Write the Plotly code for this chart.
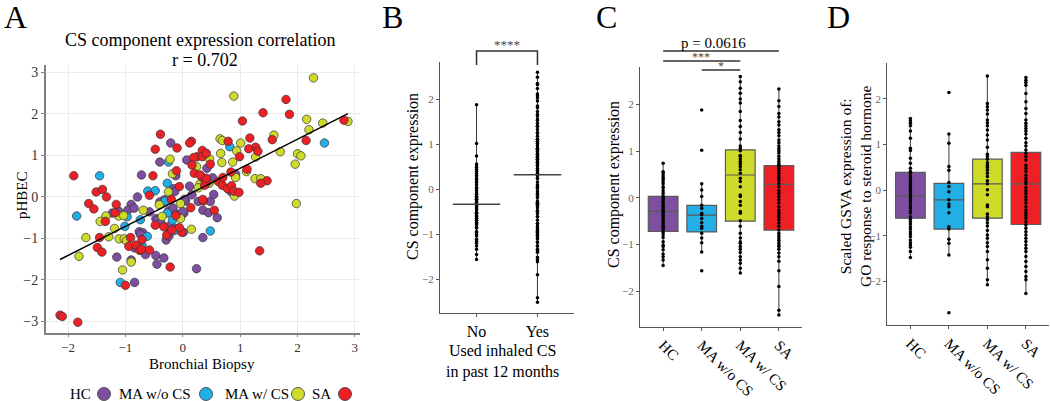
import numpy as np
import plotly.graph_objects as go

# ---------------- Panel A data (Bronchial Biopsy vs pHBEC) ----------------
hc_xy = [(-0.21,1.30),(-0.40,0.84),(0.07,0.89),(0.42,0.69),(0.92,0.55),(-0.12,0.51),(-0.72,0.53),(0.12,0.26),
         (-0.16,0.20),(0.52,0.46),(0.84,0.13),(-0.79,0.00),(-0.90,-0.18),(-0.96,-0.32),(-0.85,-0.27),(-1.23,-0.39),
         (-1.12,-0.34),(-1.15,-1.45),(-0.84,-1.23),(-0.90,-1.52),(-0.84,-2.06),(-0.76,-0.84),(-0.70,-0.86),(-0.74,-0.90),
         (-0.65,-1.39),(-0.47,-1.41),(-0.45,-1.62),(-0.33,-1.47),(0.24,-1.73),(-0.58,-0.36),(-0.47,-0.52),(-0.44,-0.56),
         (-0.38,-0.63),(-0.29,-1.04),(-0.23,-0.80),(-0.24,-0.94),(0.01,-0.85),(-0.02,-0.42),(0.02,-0.39),(-0.25,-0.34),
         (0.05,-0.10),(-0.40,-0.12),(-0.32,-0.07),(-0.17,-0.27),(-0.11,-0.42),(0.00,-0.35),(0.03,-0.06),(0.16,0.05),
         (0.35,-0.32),(0.45,-0.38),(0.48,-0.11),(0.60,-0.50),(0.35,-0.98),(0.54,0.06),(-0.13,-0.76),(0.27,-0.11),
         (-0.24,-0.71),(-0.14,0.13)]
mawo_xy = [(-1.45,0.51),(-0.27,0.33),(-0.61,0.14),(-0.48,0.15),(-0.25,0.84),(0.82,1.21),(2.47,1.30),(-1.85,-0.46),
           (-0.97,-0.48),(-1.01,-0.71),(-1.09,-2.06),(-0.62,-0.95),(-0.74,-0.55),(-0.18,-0.56),(-0.15,-0.81),
           (-0.27,-0.39),(-0.31,-0.10),(0.48,-0.82),(-0.71,-1.17)]
maw_xy = [(2.28,2.87),(0.89,2.43),(2.16,1.87),(2.44,1.78),(2.88,1.82),(2.20,1.62),(1.59,1.49),(0.65,1.40),(0.69,1.36),
          (1.01,1.30),(0.94,1.11),(0.66,1.05),(1.70,1.09),(2.00,1.04),(2.06,0.99),(1.96,0.79),(0.47,0.91),(0.68,0.83),
          (0.87,0.84),(1.11,0.61),(0.92,0.47),(1.26,0.44),(1.36,0.44),(-0.22,0.91),(0.24,0.73),(-0.18,0.56),(0.46,0.33),
          (0.30,0.31),(-0.25,0.12),(0.27,0.22),(0.90,0.02),(1.98,-0.16),(-0.41,-0.19),(-0.69,-0.32),(-1.12,-0.46),
          (-1.34,-0.46),(-1.44,-0.59),(-1.03,-0.45),(-1.19,-0.76),(-1.29,-0.96),(-1.69,-0.98),(-1.81,-1.43),(-1.11,-1.01),
          (-1.02,-1.01),(-0.98,-1.06),(-0.90,-1.57),(-1.05,-1.76),(-0.04,-0.52),(-0.04,-0.16),(0.15,-0.78),(-0.36,-0.47),
          (1.27,0.96)]
sa_xy = [(1.80,2.35),(1.40,2.03),(1.86,1.99),(1.04,1.83),(2.81,1.85),(-0.39,1.51),(1.56,1.38),(1.17,1.42),(0.79,1.34),
         (0.15,1.34),(0.12,1.30),(2.15,1.36),(1.27,1.20),(1.15,1.16),(-0.48,1.15),(-0.10,1.18),(0.34,1.12),(1.31,1.10),
         (0.25,0.97),(0.34,0.97),(0.41,1.05),(0.19,0.95),(0.99,0.97),(0.16,0.77),(0.48,0.79),(1.12,0.67),(0.84,0.60),
         (1.47,0.39),(1.36,0.33),(-0.11,0.63),(-0.52,0.51),(-1.90,0.51),(0.20,0.57),(0.34,0.47),(0.62,0.37),(0.70,0.47),
         (0.69,0.28),(0.78,0.20),(0.85,0.27),(0.89,0.14),(0.98,0.11),(-0.06,0.25),(0.43,0.36),(0.38,0.28),(-1.51,0.12),
         (-1.40,0.18),(-1.33,0.00),(-0.58,0.04),(0.41,0.45),(0.30,0.53),
         (-1.64,-0.16),(-1.55,-0.29),(-1.16,-0.18),(-1.18,-0.38),(-1.35,-0.59),(-1.45,-0.98),(-1.49,-1.22),(-1.41,-1.33),
         (-0.91,-0.98),(-0.94,-1.19),(-0.82,-1.16),(-0.75,-1.29),(-0.72,-1.26),(-1.00,-2.13),(-2.14,-2.85),(-2.10,-2.88),
         (-1.83,-3.02),(-0.71,-1.03),(-0.22,-1.69),(1.34,-1.30),(-0.48,-0.68),(-0.33,-0.72),(-0.28,-0.92),(-0.02,-0.85),
         (-0.06,-0.74),(-0.12,-0.45),(0.14,-0.26),(-0.20,-0.06),(0.36,-0.10),(0.55,-0.32),(0.35,-0.06),(-0.19,-0.80),
         (-0.58,-1.28)]
fit_slope = 0.70
fit_intercept = -0.01
r_value = 0.702

groups = ["HC", "MA w/o CS", "MA w/ CS", "SA"]
colors = ["#7E4FA1", "#22AFE6", "#CEDB2A", "#EE2026"]

# ---------------- Panel C data (CS component expression) ----------------
c_hc = [0.74,0.56,0.54,0.49,0.44,0.40,0.35,0.30,0.24,0.21,0.15,0.10,0.04,0.01,-0.03,-0.08,-0.11,-0.16,-0.19,-0.22,
        -0.26,-0.29,-0.33,-0.37,-0.41,-0.46,-0.51,-0.54,-0.58,-0.61,-0.65,-0.69,-0.74,-0.79,-0.85,-0.94,-1.01,-1.04,
        -1.11,-1.20,-1.26,-1.33,-1.45]
c_mawo = [1.88,1.02,0.30,0.17,0.03,-0.16,-0.22,-0.33,-0.36,-0.44,-0.53,-0.61,-0.65,-0.76,-0.86,-0.96,-1.16,-1.56]
c_maw = [2.60,2.49,2.35,2.24,2.12,2.03,1.85,1.66,1.53,1.40,1.26,1.11,1.06,1.01,0.91,0.89,0.84,0.78,0.73,0.67,0.60,
         0.53,0.42,0.35,0.24,0.06,0.03,-0.08,-0.16,-0.29,-0.33,-0.49,-0.61,-0.76,-0.86,-0.94,-0.97,-1.04,-1.10,-1.17,
         -1.26,-1.33,-1.40,-1.51,-1.61]
c_sa = [2.33,2.08,1.96,1.81,1.73,1.63,1.56,1.46,1.40,1.33,1.24,1.18,1.11,1.06,1.01,0.96,0.89,0.83,0.78,0.73,0.70,0.67,
        0.63,0.58,0.53,0.47,0.42,0.37,0.30,0.24,0.16,0.10,0.03,-0.04,-0.11,-0.19,-0.26,-0.31,-0.36,-0.41,-0.47,-0.54,
        -0.61,-0.69,-0.76,-0.81,-0.86,-0.91,-0.96,-1.01,-1.04,-1.10,-1.18,-1.26,-1.36,-1.56,-1.90,-2.41,-2.51]
c_q1 = [-0.72, -0.73, -0.50, -0.69]
c_med = [-0.29, -0.37, 0.49, 0.29]
c_q3 = [0.03, -0.16, 1.03, 0.69]
c_lo = [-1.45, -1.16, -1.61, -2.51]
c_hi = [0.74, 0.30, 2.60, 2.33]

# ---------------- Panel D data (GSVA steroid hormone response) ----------------
d_hc = [1.57,1.52,1.47,1.41,1.30,1.14,0.92,0.87,0.70,0.59,0.48,0.41,0.37,0.31,0.26,0.21,0.17,0.12,0.08,0.02,-0.03,
        -0.07,-0.12,-0.18,-0.23,-0.28,-0.34,-0.39,-0.45,-0.50,-0.58,-0.64,-0.69,-0.74,-0.80,-0.85,-0.91,-0.96,-1.01,
        -1.09,-1.15,-1.20,-1.25,-1.34,-1.47]
d_mawo = [2.14,1.23,1.03,0.52,0.44,0.17,0.08,-0.03,-0.21,-0.30,-0.36,-0.49,-0.80,-0.85,-1.07,-1.16,-1.42,-2.68]
d_maw = [2.50,1.90,1.83,1.76,1.67,1.54,1.48,1.41,1.32,1.21,1.10,0.94,0.79,0.74,0.68,0.60,0.55,0.50,0.44,0.37,0.30,
         0.21,0.14,0.01,-0.10,-0.32,-0.36,-0.52,-0.58,-0.64,-0.71,-0.78,-0.88,-0.98,-1.05,-1.15,-1.23,-1.34,-1.52,
         -1.71,-1.96,-2.07]
d_sa = [2.47,2.41,2.36,2.30,2.12,1.94,1.79,1.68,1.54,1.47,1.41,1.36,1.30,1.23,1.14,1.04,0.97,0.88,0.81,0.74,0.66,0.55,
        0.48,0.41,0.33,0.26,0.19,0.14,0.06,-0.01,-0.07,-0.14,-0.21,-0.28,-0.36,-0.43,-0.49,-0.55,-0.61,-0.69,-0.76,
        -0.83,-0.91,-0.98,-1.05,-1.12,-1.20,-1.27,-1.34,-1.45,-1.56,-1.67,-1.78,-1.89,-1.96,-2.26]
d_q1 = [-0.61, -0.85, -0.61, -0.75]
d_med = [-0.13, -0.21, 0.14, 0.14]
d_q3 = [0.39, 0.15, 0.68, 0.83]
d_lo = [-1.47, -1.42, -2.07, -2.26]
d_hi = [1.57, 1.23, 2.50, 2.47]

# ---------------- Panel B data: derived from groups ----------------
b_cats = ["No", "Yes"]
b_values = [c_hc + c_mawo, c_maw + c_sa]

W, H = 1050, 401
FONT = "Liberation Serif"
def PX(px): return px / W
def PY(py): return 1 - py / H

fig = go.Figure()

# Panel A scatter
for name, pts, col in zip(groups, [hc_xy, mawo_xy, maw_xy, sa_xy], colors):
    fig.add_trace(go.Scatter(x=[p[0] for p in pts], y=[p[1] for p in pts], mode="markers",
                             marker=dict(size=8.5, color=col, line=dict(color="#333333", width=0.7)),
                             xaxis="x", yaxis="y", name=name))
all_x = [p[0] for g in [hc_xy, mawo_xy, maw_xy, sa_xy] for p in g]
fx = np.array([min(all_x), max(all_x)])
fig.add_trace(go.Scatter(x=fx, y=fit_slope * fx + fit_intercept, mode="lines",
                         line=dict(color="black", width=1.5), xaxis="x", yaxis="y"))

# Panel B
for i, vals in enumerate(b_values):
    fig.add_trace(go.Scatter(x=[i, i], y=[min(vals), max(vals)], mode="lines",
                             line=dict(color="black", width=0.8), xaxis="x2", yaxis="y2"))
    fig.add_trace(go.Scatter(x=[i] * len(vals), y=vals, mode="markers",
                             marker=dict(size=3.5, color="black"), xaxis="x2", yaxis="y2"))
    m = float(np.median(vals))
    fig.add_trace(go.Scatter(x=[i - 0.39, i + 0.39], y=[m, m], mode="lines",
                             line=dict(color="#444444", width=1.5), xaxis="x2", yaxis="y2"))

# Panels C and D
def add_boxes(ax, ay, vals_list, q1, med, q3, lo, hi):
    for i, (vals, col) in enumerate(zip(vals_list, colors)):
        fig.add_trace(go.Box(x=[i], q1=[q1[i]], median=[med[i]], q3=[q3[i]],
                             lowerfence=[lo[i]], upperfence=[hi[i]], width=0.77,
                             fillcolor=col, line=dict(color="#5a5a5a", width=1.2),
                             whiskerwidth=0, boxpoints=False, xaxis=ax, yaxis=ay))
        fig.add_trace(go.Scatter(x=[i] * len(vals), y=vals, mode="markers",
                                 marker=dict(size=3.5, color="black"), xaxis=ax, yaxis=ay))

add_boxes("x3", "y3", [c_hc, c_mawo, c_maw, c_sa], c_q1, c_med, c_q3, c_lo, c_hi)
add_boxes("x4", "y4", [d_hc, d_mawo, d_maw, d_sa], d_q1, d_med, d_q3, d_lo, d_hi)

small_y = dict(showline=True, linecolor="#555555", linewidth=1, ticks="outside", ticklen=3,
               tickcolor="#555555", tickfont=dict(family=FONT, size=11, color="#666666"),
               showgrid=False, zeroline=False, tickvals=[-2, -1, 0, 1, 2])
cat_x = dict(showline=True, linecolor="#555555", linewidth=1, ticks="outside", ticklen=3,
             tickcolor="#555555", showgrid=False, zeroline=False)

fig.update_layout(
    width=W, height=H, autosize=False, margin=dict(l=0, r=0, t=0, b=0),
    plot_bgcolor="white", paper_bgcolor="white", showlegend=False,
    font=dict(family=FONT, color="black"), boxmode="overlay",
    xaxis=dict(domain=[PX(45.7), PX(360)], range=[-2.39, 3.09], anchor="y",
               tickvals=[-2, -1, 0, 1, 2, 3], showgrid=True, gridcolor="#ececec", gridwidth=1,
               showline=True, linecolor="#808080", linewidth=1.5, ticks="outside", ticklen=2,
               tickcolor="#808080", tickfont=dict(family=FONT, size=13, color="#333333"), zeroline=False),
    yaxis=dict(domain=[PY(333), PY(65)], range=[-3.28, 3.18], anchor="x",
               tickvals=[-3, -2, -1, 0, 1, 2, 3], showgrid=True, gridcolor="#ececec", gridwidth=1,
               showline=True, linecolor="#808080", linewidth=1.5, ticks="outside", ticklen=3,
               tickcolor="#808080", tickfont=dict(family=FONT, size=14, color="#333333"), zeroline=False),
    xaxis2=dict(domain=[PX(440), PX(574)], range=[-0.6, 1.6], anchor="y2", tickvals=[0, 1],
                ticktext=b_cats, tickfont=dict(family=FONT, size=16, color="black"), **cat_x),
    yaxis2=dict(domain=[PY(313.3), PY(61.7)], range=[-2.756, 2.836], anchor="x2", **small_y),
    xaxis3=dict(domain=[PX(640), PX(802)], range=[-0.6, 3.6], anchor="y3", tickvals=[0, 1, 2, 3],
                ticktext=groups, tickangle=45, tickfont=dict(family=FONT, size=15, color="black"), **cat_x),
    yaxis3=dict(domain=[PY(326.7), PY(66.7)], range=[-2.76, 2.81], anchor="x3", **small_y),
    xaxis4=dict(domain=[PX(887.3), PX(1049)], range=[-0.6, 3.6], anchor="y4", tickvals=[0, 1, 2, 3],
                ticktext=groups, tickangle=45, tickfont=dict(family=FONT, size=15, color="black"), **cat_x),
    yaxis4=dict(domain=[PY(325), PY(63.3)], range=[-2.95, 2.78], anchor="x4", **small_y),
)

ann = []
def text(t, px, py, size, xanchor="center", angle=0, color="black"):
    ann.append(dict(text=t, x=PX(px), y=PY(py), xref="paper", yref="paper", showarrow=False,
                    xanchor=xanchor, yanchor="middle", textangle=angle,
                    font=dict(family=FONT, size=size, color=color)))

text("A", 15, 17, 32)
text("B", 392, 17, 32)
text("C", 606, 17, 32)
text("D", 838, 17, 32)
text("CS component expression correlation", 200, 40, 18)
text(f"r = {r_value:.3f}", 205, 60, 18)
text("Bronchial Biopsy", 202, 364, 15)
text("pHBEC", 22, 195, 15, angle=-90)
text("CS component expression", 413, 177, 16, angle=-90)
text("Used inhaled CS<br>in past 12 months", 502, 361, 16)
text("****", 507, 44, 13, color="#444444")
text("CS component expression", 614, 185, 16, angle=-90)
text("Scaled GSVA expression of:<br>GO response to steroid hormone", 855, 186, 15.5, angle=-90)
text("p = 0.0616", 713, 43, 15)
text("***", 701, 57, 12, color="#444444")
text("*", 721, 66, 12, color="#444444")

# legend of panel A
leg = [("HC", 93, 104), ("MA w/o CS", 193, 206), ("MA w/ CS", 291, 298), ("SA", 333, 345)]
shapes = []
for (lab, tx, cx), col in zip(leg, colors):
    text(lab, tx, 394, 15, xanchor="right")
    shapes.append(dict(type="circle", xref="paper", yref="paper", xsizemode="pixel", ysizemode="pixel",
                       xanchor=PX(cx), yanchor=PY(394), x0=-6.5, x1=6.5, y0=-6.5, y1=6.5,
                       fillcolor=col, line=dict(color="#333333", width=0.8)))

# significance brackets
shapes.append(dict(type="path", xref="x2", yref="paper",
                   path=f"M 0 {PY(65)} L 0 {PY(51)} L 1 {PY(51)} L 1 {PY(65)}",
                   line=dict(color="#333333", width=1.5)))
for (a, b, py) in [(0, 3, 51), (0, 2, 61), (1, 2, 70)]:
    shapes.append(dict(type="line", xref="x3", yref="paper", x0=a, x1=b, y0=PY(py), y1=PY(py),
                       line=dict(color="#333333", width=1.5)))

fig.update_layout(annotations=ann, shapes=shapes)
fig.write_html("out.html", config={"displayModeBar": False},
               post_script="document.body.style.margin='0';document.body.style.overflow='hidden';")
